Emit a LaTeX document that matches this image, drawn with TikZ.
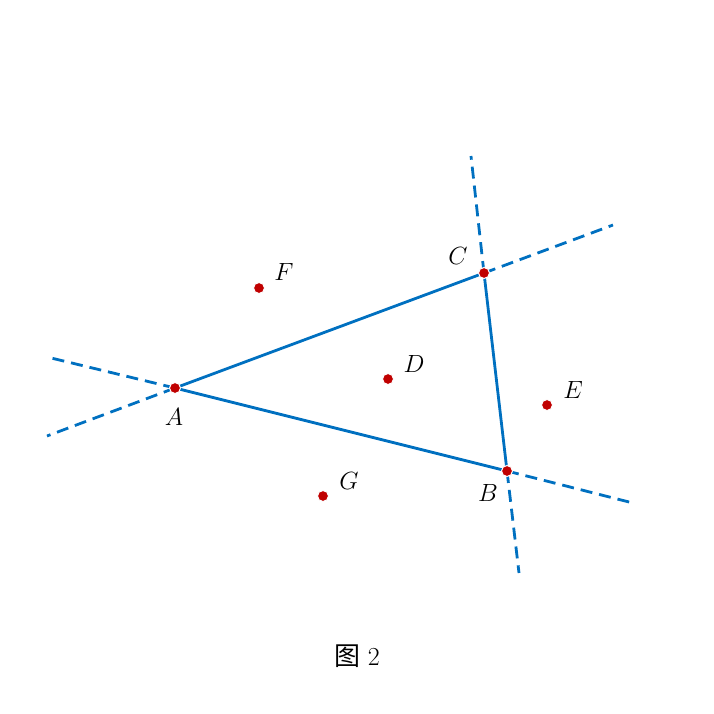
\documentclass[tikz,border=0pt]{standalone}
\usepackage{fontspec}
\newfontfamily\cjk{Noto Sans CJK SC}
\definecolor{lineblue}{RGB}{0,112,192}
\definecolor{ptred}{RGB}{192,0,0}
\begin{document}
\begin{tikzpicture}[x=1pt,y=-1pt,
  seg/.style={lineblue,line width=2.8pt},
  ext/.style={lineblue,line width=2.8pt,dash pattern=on 12pt off 7pt},
  pt/.style={circle,fill=ptred,draw=white,line width=1pt,inner sep=0pt,minimum size=11pt},
  lbl/.style={font=\fontsize{24}{28}\selectfont}]
\useasboundingbox (0,0) rectangle (713,714);
\coordinate (A) at (175,388);
\coordinate (B) at (507,471);
\coordinate (C) at (484,273);
\coordinate (ACa) at (47,436);
\coordinate (ACc) at (613,225);
\coordinate (ABa) at (47,357);
\coordinate (ABb) at (633,503);
\coordinate (CBc) at (471,156);
\coordinate (CBb) at (519,573);
\draw[ext] (A) -- (ACa);
\draw[ext] (C) -- (ACc);
\draw[ext] (A) -- (ABa);
\draw[ext] (B) -- (ABb);
\draw[ext] (C) -- (CBc);
\draw[ext] (B) -- (CBb);
\draw[seg] (A) -- (B) -- (C) -- cycle;
\node[pt] (pA) at (A) {};
\node[pt] (pB) at (B) {};
\node[pt] (pC) at (C) {};
\node[pt] (pD) at (388,379) {};
\node[pt] (pE) at (547,405) {};
\node[pt] (pF) at (259,288) {};
\node[pt] (pG) at (323,496) {};
\node[lbl] (lA) at (174,417) {$A$};
\node[lbl] (lB) at (488,493) {$B$};
\node[lbl] (lC) at (458,256) {$C$};
\node[lbl] (lD) at (414,364) {$D$};
\node[lbl] (lE) at (573,390) {$E$};
\node[lbl] (lF) at (284,272) {$F$};
\node[lbl] (lG) at (349,481) {$G$};
\node[font=\fontsize{26}{30}\selectfont] (cap) at (357,656) {{\cjk 图}\ 2};
\end{tikzpicture}
\end{document}
